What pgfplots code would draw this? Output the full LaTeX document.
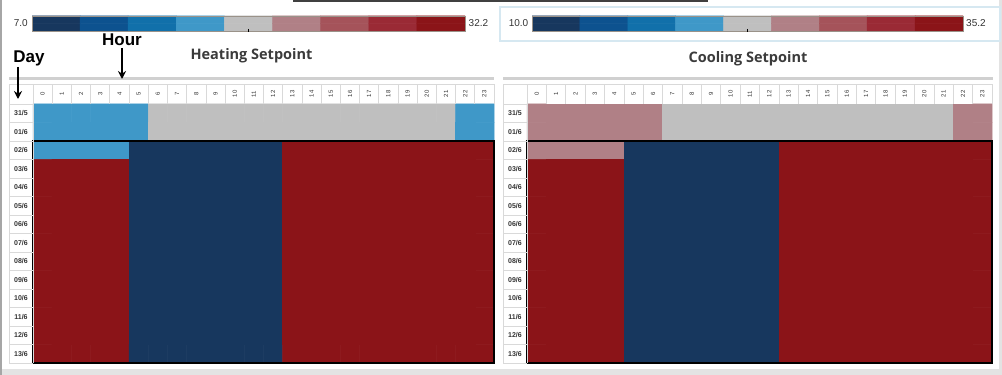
\documentclass[border=0pt]{standalone}
\usepackage{pgfplots}
\pgfplotsset{compat=1.18}
\usepackage{pgfplotstable}
\usepackage{fontspec}
\setmainfont{Liberation Sans}
\newfontfamily\titlefont{Open Sans}
\usetikzlibrary{arrows.meta}
\definecolor{gridc}{RGB}{217,217,217}
\definecolor{barc}{RGB}{208,208,208}
\definecolor{cbb}{RGB}{154,146,137}
\definecolor{boxc}{RGB}{214,232,241}
\definecolor{titc}{RGB}{59,59,59}
\definecolor{txt}{RGB}{51,51,51}
\definecolor{framec}{RGB}{166,166,166}
\definecolor{botc}{RGB}{227,227,227}
\pgfplotsset{colormap={setp}{rgb255=(23,55,94) rgb255=(13,82,143) rgb255=(17,112,170) rgb255=(63,152,200) rgb255=(191,191,191) rgb255=(176,128,134) rgb255=(165,83,90) rgb255=(154,42,53) rgb255=(139,20,24)}}
\pgfplotsset{
  cells/.style={matrix plot*, shader=faceted, faceted color=mapped color, line width=0.5pt, point meta=explicit},
  heat/.style={scale only axis, anchor=south west, height=259pt,
    xmin=-0.5, xmax=23.5, ymin=-0.5, ymax=13.5,
    axis line style={draw=none}, major tick length=0pt,
    /pgf/number format/assume math mode=true,
    xtick={0,...,23}, xticklabel pos=upper,
    xticklabel style={yshift=10pt, rotate=90, anchor=center, inner sep=0pt, font=\fontsize{6}{7}\selectfont, text=txt},
    ytick={0,...,13},
    yticklabels={13/6,12/6,11/6,10/6,09/6,08/6,07/6,06/6,05/6,04/6,03/6,02/6,01/6,31/5},
    yticklabel style={anchor=center, inner sep=0pt, xshift=-12pt, font=\bfseries\fontsize{7}{8}\selectfont, text=txt},
    colormap name=setp, colormap access=piecewise constant, clip=false},
  cbar/.style={scale only axis, anchor=south west, width=433pt, height=15pt,
    ymin=-0.5, ymax=1.5, hide axis,
    colormap name=setp, colormap access=piecewise constant}
}
\begin{document}
\begin{tikzpicture}
\path[use as bounding box] (0pt,0pt) rectangle (1002pt,375pt);
% frame
\fill[botc] (0pt,0pt) rectangle (1002pt,6pt);
\fill[botc] (999pt,0pt) rectangle (1002pt,375pt);
\draw[framec, line width=1.5pt] (1pt,0pt) -- (1pt,375pt);
\draw[black!75, line width=2pt] (293pt,373.5pt) -- (708pt,373.5pt);

% ---------- colorbars ----------
\begin{axis}[cbar, at={(32pt,344pt)}, xmin=7, xmax=32.2, point meta min=7, point meta max=32.2]
\addplot[cells, mesh/cols=9, mesh/rows=2] coordinates {
(8.4,0)[8.4] (11.2,0)[11.2] (14,0)[14] (16.8,0)[16.8] (19.6,0)[19.6] (22.4,0)[22.4] (25.2,0)[25.2] (28,0)[28] (30.8,0)[30.8]
(8.4,1)[8.4] (11.2,1)[11.2] (14,1)[14] (16.8,1)[16.8] (19.6,1)[19.6] (22.4,1)[22.4] (25.2,1)[25.2] (28,1)[28] (30.8,1)[30.8]
};
\end{axis}
\begin{axis}[cbar, at={(532pt,344pt)}, width=431pt, xmin=10, xmax=35.2, point meta min=10, point meta max=35.2]
\addplot[cells, mesh/cols=9, mesh/rows=2] coordinates {
(11.4,0)[11.4] (14.2,0)[14.2] (17,0)[17] (19.8,0)[19.8] (22.6,0)[22.6] (25.4,0)[25.4] (28.2,0)[28.2] (31,0)[31] (33.8,0)[33.8]
(11.4,1)[11.4] (14.2,1)[14.2] (17,1)[17] (19.8,1)[19.8] (22.6,1)[22.6] (25.4,1)[25.4] (28.2,1)[28.2] (31,1)[31] (33.8,1)[33.8]
};
\end{axis}
\fill[white] (30pt,341pt) rectangle (467pt,344pt);
\fill[white] (530pt,341pt) rectangle (965pt,344pt);
\draw[cbb, line width=0.8pt] (32pt,344pt) rectangle (465pt,359pt);
\draw[cbb, line width=0.8pt] (532pt,344pt) rectangle (963pt,359pt);
\draw[black, line width=0.6pt] (248pt,346pt) -- (248pt,342.5pt);
\draw[black, line width=0.6pt] (747pt,346pt) -- (747pt,342.5pt);
\draw[boxc, line width=2pt] (500pt,334pt) rectangle (1000pt,368pt);
\begin{scope}[every node/.style={inner sep=0pt, font=\fontsize{10}{12}\selectfont, text=txt}]
\node[anchor=east] at (28pt,351.5pt) {7.0};
\node[anchor=west] at (468.5pt,351.5pt) {32.2};
\node[anchor=east] at (528.5pt,351.5pt) {10.0};
\node[anchor=west] at (966pt,351.5pt) {35.2};
\end{scope}

% ---------- heating ----------
\begin{axis}[heat, at={(33pt,12pt)}, width=461pt, point meta min=7, point meta max=32.2]
\addplot[cells, mesh/cols=24, mesh/rows=14]
table[row sep=\\, x expr={\coordindex-24*floor((\coordindex+0.5)/24)}, y expr={13-floor((\coordindex+0.5)/24)}, meta=v] {
v\\
17\\ 17\\ 17\\ 17\\ 17\\ 17\\ 19.5\\ 19.5\\ 19.5\\ 19.5\\ 19.5\\ 19.5\\ 19.5\\ 19.5\\ 19.5\\ 19.5\\ 19.5\\ 19.5\\ 19.5\\ 19.5\\ 19.5\\ 19.5\\ 17\\ 17\\
17\\ 17\\ 17\\ 17\\ 17\\ 17\\ 19.5\\ 19.5\\ 19.5\\ 19.5\\ 19.5\\ 19.5\\ 19.5\\ 19.5\\ 19.5\\ 19.5\\ 19.5\\ 19.5\\ 19.5\\ 19.5\\ 19.5\\ 19.5\\ 17\\ 17\\
17\\ 17\\ 17\\ 17\\ 17\\ 7\\ 7\\ 7\\ 7\\ 7\\ 7\\ 7\\ 7\\ 32.2\\ 32.2\\ 32.2\\ 32.2\\ 32.2\\ 32.2\\ 32.2\\ 32.2\\ 32.2\\ 32.2\\ 32.2\\
32.2\\ 32.2\\ 32.2\\ 32.2\\ 32.2\\ 7\\ 7\\ 7\\ 7\\ 7\\ 7\\ 7\\ 7\\ 32.2\\ 32.2\\ 32.2\\ 32.2\\ 32.2\\ 32.2\\ 32.2\\ 32.2\\ 32.2\\ 32.2\\ 32.2\\
32.2\\ 32.2\\ 32.2\\ 32.2\\ 32.2\\ 7\\ 7\\ 7\\ 7\\ 7\\ 7\\ 7\\ 7\\ 32.2\\ 32.2\\ 32.2\\ 32.2\\ 32.2\\ 32.2\\ 32.2\\ 32.2\\ 32.2\\ 32.2\\ 32.2\\
32.2\\ 32.2\\ 32.2\\ 32.2\\ 32.2\\ 7\\ 7\\ 7\\ 7\\ 7\\ 7\\ 7\\ 7\\ 32.2\\ 32.2\\ 32.2\\ 32.2\\ 32.2\\ 32.2\\ 32.2\\ 32.2\\ 32.2\\ 32.2\\ 32.2\\
32.2\\ 32.2\\ 32.2\\ 32.2\\ 32.2\\ 7\\ 7\\ 7\\ 7\\ 7\\ 7\\ 7\\ 7\\ 32.2\\ 32.2\\ 32.2\\ 32.2\\ 32.2\\ 32.2\\ 32.2\\ 32.2\\ 32.2\\ 32.2\\ 32.2\\
32.2\\ 32.2\\ 32.2\\ 32.2\\ 32.2\\ 7\\ 7\\ 7\\ 7\\ 7\\ 7\\ 7\\ 7\\ 32.2\\ 32.2\\ 32.2\\ 32.2\\ 32.2\\ 32.2\\ 32.2\\ 32.2\\ 32.2\\ 32.2\\ 32.2\\
32.2\\ 32.2\\ 32.2\\ 32.2\\ 32.2\\ 7\\ 7\\ 7\\ 7\\ 7\\ 7\\ 7\\ 7\\ 32.2\\ 32.2\\ 32.2\\ 32.2\\ 32.2\\ 32.2\\ 32.2\\ 32.2\\ 32.2\\ 32.2\\ 32.2\\
32.2\\ 32.2\\ 32.2\\ 32.2\\ 32.2\\ 7\\ 7\\ 7\\ 7\\ 7\\ 7\\ 7\\ 7\\ 32.2\\ 32.2\\ 32.2\\ 32.2\\ 32.2\\ 32.2\\ 32.2\\ 32.2\\ 32.2\\ 32.2\\ 32.2\\
32.2\\ 32.2\\ 32.2\\ 32.2\\ 32.2\\ 7\\ 7\\ 7\\ 7\\ 7\\ 7\\ 7\\ 7\\ 32.2\\ 32.2\\ 32.2\\ 32.2\\ 32.2\\ 32.2\\ 32.2\\ 32.2\\ 32.2\\ 32.2\\ 32.2\\
32.2\\ 32.2\\ 32.2\\ 32.2\\ 32.2\\ 7\\ 7\\ 7\\ 7\\ 7\\ 7\\ 7\\ 7\\ 32.2\\ 32.2\\ 32.2\\ 32.2\\ 32.2\\ 32.2\\ 32.2\\ 32.2\\ 32.2\\ 32.2\\ 32.2\\
32.2\\ 32.2\\ 32.2\\ 32.2\\ 32.2\\ 7\\ 7\\ 7\\ 7\\ 7\\ 7\\ 7\\ 7\\ 32.2\\ 32.2\\ 32.2\\ 32.2\\ 32.2\\ 32.2\\ 32.2\\ 32.2\\ 32.2\\ 32.2\\ 32.2\\
32.2\\ 32.2\\ 32.2\\ 32.2\\ 32.2\\ 7\\ 7\\ 7\\ 7\\ 7\\ 7\\ 7\\ 7\\ 32.2\\ 32.2\\ 32.2\\ 32.2\\ 32.2\\ 32.2\\ 32.2\\ 32.2\\ 32.2\\ 32.2\\ 32.2\\
};
\draw[black, line width=2.4pt] (axis cs:-0.5,-0.5) rectangle (axis cs:23.5,11.5);
\end{axis}

% ---------- cooling ----------
\begin{axis}[heat, at={(527pt,12pt)}, width=465pt, point meta min=10, point meta max=35.2]
\addplot[cells, mesh/cols=24, mesh/rows=14]
table[row sep=\\, x expr={\coordindex-24*floor((\coordindex+0.5)/24)}, y expr={13-floor((\coordindex+0.5)/24)}, meta=v] {
v\\
25.5\\ 25.5\\ 25.5\\ 25.5\\ 25.5\\ 25.5\\ 25.5\\ 23\\ 23\\ 23\\ 23\\ 23\\ 23\\ 23\\ 23\\ 23\\ 23\\ 23\\ 23\\ 23\\ 23\\ 23\\ 25.5\\ 25.5\\
25.5\\ 25.5\\ 25.5\\ 25.5\\ 25.5\\ 25.5\\ 25.5\\ 23\\ 23\\ 23\\ 23\\ 23\\ 23\\ 23\\ 23\\ 23\\ 23\\ 23\\ 23\\ 23\\ 23\\ 23\\ 25.5\\ 25.5\\
25.5\\ 25.5\\ 25.5\\ 25.5\\ 25.5\\ 10\\ 10\\ 10\\ 10\\ 10\\ 10\\ 10\\ 10\\ 35.2\\ 35.2\\ 35.2\\ 35.2\\ 35.2\\ 35.2\\ 35.2\\ 35.2\\ 35.2\\ 35.2\\ 35.2\\
35.2\\ 35.2\\ 35.2\\ 35.2\\ 35.2\\ 10\\ 10\\ 10\\ 10\\ 10\\ 10\\ 10\\ 10\\ 35.2\\ 35.2\\ 35.2\\ 35.2\\ 35.2\\ 35.2\\ 35.2\\ 35.2\\ 35.2\\ 35.2\\ 35.2\\
35.2\\ 35.2\\ 35.2\\ 35.2\\ 35.2\\ 10\\ 10\\ 10\\ 10\\ 10\\ 10\\ 10\\ 10\\ 35.2\\ 35.2\\ 35.2\\ 35.2\\ 35.2\\ 35.2\\ 35.2\\ 35.2\\ 35.2\\ 35.2\\ 35.2\\
35.2\\ 35.2\\ 35.2\\ 35.2\\ 35.2\\ 10\\ 10\\ 10\\ 10\\ 10\\ 10\\ 10\\ 10\\ 35.2\\ 35.2\\ 35.2\\ 35.2\\ 35.2\\ 35.2\\ 35.2\\ 35.2\\ 35.2\\ 35.2\\ 35.2\\
35.2\\ 35.2\\ 35.2\\ 35.2\\ 35.2\\ 10\\ 10\\ 10\\ 10\\ 10\\ 10\\ 10\\ 10\\ 35.2\\ 35.2\\ 35.2\\ 35.2\\ 35.2\\ 35.2\\ 35.2\\ 35.2\\ 35.2\\ 35.2\\ 35.2\\
35.2\\ 35.2\\ 35.2\\ 35.2\\ 35.2\\ 10\\ 10\\ 10\\ 10\\ 10\\ 10\\ 10\\ 10\\ 35.2\\ 35.2\\ 35.2\\ 35.2\\ 35.2\\ 35.2\\ 35.2\\ 35.2\\ 35.2\\ 35.2\\ 35.2\\
35.2\\ 35.2\\ 35.2\\ 35.2\\ 35.2\\ 10\\ 10\\ 10\\ 10\\ 10\\ 10\\ 10\\ 10\\ 35.2\\ 35.2\\ 35.2\\ 35.2\\ 35.2\\ 35.2\\ 35.2\\ 35.2\\ 35.2\\ 35.2\\ 35.2\\
35.2\\ 35.2\\ 35.2\\ 35.2\\ 35.2\\ 10\\ 10\\ 10\\ 10\\ 10\\ 10\\ 10\\ 10\\ 35.2\\ 35.2\\ 35.2\\ 35.2\\ 35.2\\ 35.2\\ 35.2\\ 35.2\\ 35.2\\ 35.2\\ 35.2\\
35.2\\ 35.2\\ 35.2\\ 35.2\\ 35.2\\ 10\\ 10\\ 10\\ 10\\ 10\\ 10\\ 10\\ 10\\ 35.2\\ 35.2\\ 35.2\\ 35.2\\ 35.2\\ 35.2\\ 35.2\\ 35.2\\ 35.2\\ 35.2\\ 35.2\\
35.2\\ 35.2\\ 35.2\\ 35.2\\ 35.2\\ 10\\ 10\\ 10\\ 10\\ 10\\ 10\\ 10\\ 10\\ 35.2\\ 35.2\\ 35.2\\ 35.2\\ 35.2\\ 35.2\\ 35.2\\ 35.2\\ 35.2\\ 35.2\\ 35.2\\
35.2\\ 35.2\\ 35.2\\ 35.2\\ 35.2\\ 10\\ 10\\ 10\\ 10\\ 10\\ 10\\ 10\\ 10\\ 35.2\\ 35.2\\ 35.2\\ 35.2\\ 35.2\\ 35.2\\ 35.2\\ 35.2\\ 35.2\\ 35.2\\ 35.2\\
35.2\\ 35.2\\ 35.2\\ 35.2\\ 35.2\\ 10\\ 10\\ 10\\ 10\\ 10\\ 10\\ 10\\ 10\\ 35.2\\ 35.2\\ 35.2\\ 35.2\\ 35.2\\ 35.2\\ 35.2\\ 35.2\\ 35.2\\ 35.2\\ 35.2\\
};
\draw[black, line width=2.4pt] (axis cs:-0.5,-0.5) rectangle (axis cs:23.5,11.5);
\end{axis}

% ---------- table grids ----------
\begin{scope}[gridc, line width=0.7pt]
\foreach \k in {0,...,24} {
  \draw ({33pt+\k*19.2083pt},271pt) -- ++(0pt,20pt);
  \draw ({527pt+\k*19.375pt},271pt) -- ++(0pt,20pt);
}
\foreach \j in {0,...,14} {
  \draw (9pt,{271pt-\j*18.5pt}) -- (33pt,{271pt-\j*18.5pt});
  \draw (503pt,{271pt-\j*18.5pt}) -- (527pt,{271pt-\j*18.5pt});
}
\draw (9pt,291pt) -- (494pt,291pt);
\draw (503pt,291pt) -- (992pt,291pt);
\draw (9pt,12pt) -- (9pt,291pt);
\draw (33pt,12pt) -- (33pt,271pt);
\draw (503pt,12pt) -- (503pt,291pt);
\draw (527pt,12pt) -- (527pt,271pt);
\end{scope}
\draw[barc, line width=3pt] (9pt,296pt) -- (494pt,296pt);
\draw[barc, line width=3pt] (503pt,296pt) -- (993pt,296pt);

% ---------- titles and annotations ----------
\node[anchor=base, inner sep=0pt, font=\titlefont\bfseries\fontsize{14.5}{16}\selectfont, text=titc] at (251.5pt,315pt) {Heating Setpoint};
\node[anchor=base, inner sep=0pt, font=\titlefont\bfseries\fontsize{14.5}{16}\selectfont, text=titc] at (748pt,312pt) {Cooling Setpoint};
\node[anchor=base, inner sep=0pt, font=\bfseries\fontsize{17}{19}\selectfont] at (122pt,329pt) {Hour};
\node[anchor=base, inner sep=0pt, font=\bfseries\fontsize{17}{19}\selectfont] at (29pt,312pt) {Day};
\draw[-{Stealth[length=8pt,width=8pt]}, line width=1.5pt] (122pt,327pt) -- (122pt,296pt);
\draw[-{Stealth[length=8pt,width=8pt]}, line width=1.5pt] (18pt,308pt) -- (18pt,276pt);
\end{tikzpicture}
\end{document}
